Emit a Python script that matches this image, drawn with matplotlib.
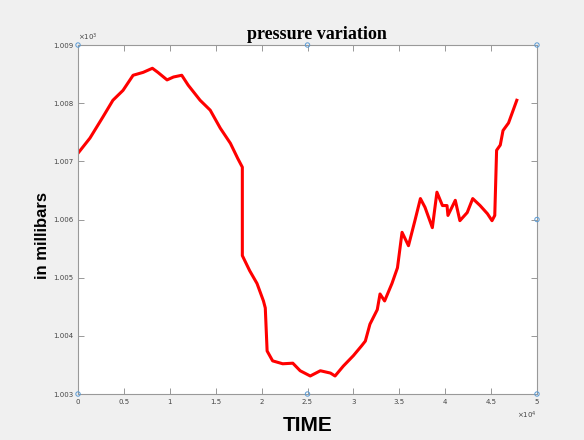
import matplotlib.pyplot as plt
from matplotlib.ticker import FuncFormatter, MultipleLocator

# points (time, pressure in mbar)
time = [0, 1300, 2700, 3800, 4900, 6000, 7100, 8100, 8700, 9700, 10400, 11300,
        12000, 13300, 14400, 15500, 16600, 17400, 17900, 17900, 18700, 19500,
        20200, 20400, 20600, 21200, 22300, 23400, 24200, 25300, 26400, 27500,
        28000, 28900, 30000, 30900, 31300, 31800, 32600, 32900, 33400, 34200,
        34800, 35300, 36000, 36700, 37300, 37800, 38600, 39100, 39700, 40200,
        40300, 41100, 41600, 42400, 43000, 43800, 44600, 45100, 45400, 45600,
        46000, 46300, 46900, 47800]
pressure = [1007.14, 1007.40, 1007.76, 1008.05, 1008.22, 1008.48, 1008.53, 1008.60,
            1008.53, 1008.40, 1008.45, 1008.48, 1008.31, 1008.05, 1007.88, 1007.57,
            1007.31, 1007.05, 1006.90, 1005.38, 1005.12, 1004.90, 1004.60, 1004.48,
            1003.74, 1003.57, 1003.52, 1003.53, 1003.40, 1003.31, 1003.40, 1003.36,
            1003.31, 1003.48, 1003.66, 1003.83, 1003.91, 1004.20, 1004.45, 1004.72,
            1004.60, 1004.90, 1005.17, 1005.78, 1005.55, 1005.98, 1006.36, 1006.21,
            1005.86, 1006.47, 1006.24, 1006.24, 1006.07, 1006.33, 1005.98, 1006.12,
            1006.36, 1006.24, 1006.10, 1005.98, 1006.07, 1007.19, 1007.28, 1007.53,
            1007.66, 1008.05]

fig = plt.figure(figsize=(5.84, 4.4), dpi=100, facecolor="#f0f0f0")
ax = fig.add_axes([0.1336, 0.1045, 0.7859, 0.7932])
ax.set_facecolor("white")

ax.plot(time, pressure, color="#ff0000", linewidth=2.2)

ax.set_xlim(0, 50000)
ax.set_ylim(1003, 1009)
ax.xaxis.set_major_locator(MultipleLocator(5000))
ax.yaxis.set_major_locator(MultipleLocator(1))
ax.xaxis.set_major_formatter(FuncFormatter(lambda v, p: "%g" % (v / 1e4)))
ax.yaxis.set_major_formatter(FuncFormatter(lambda v, p: "%.3f" % (v / 1e3)))
ax.tick_params(direction="in", length=4, width=0.6, labelsize=5,
               colors="#888888", labelcolor="#444444", top=True, right=True)
for s in ax.spines.values():
    s.set_color("#999999")
    s.set_linewidth(0.8)

# exponent labels like matlab
ax.text(0.0, 1.005, r"$\times10^3$", transform=ax.transAxes, fontsize=5,
        color="#444444", ha="left", va="bottom")
ax.text(1.0, -0.045, r"$\times10^4$", transform=ax.transAxes, fontsize=5,
        color="#444444", ha="right", va="top")

# selection handles
hx = [0, 0.5, 1, 1, 1, 0.5, 0]
hy = [1, 1, 1, 0.5, 0, 0, 0]
ax.scatter(hx, hy, s=10, facecolors="none", edgecolors="#5b9bd5",
           linewidths=0.7, transform=ax.transAxes, clip_on=False, zorder=5)

ax.set_title("pressure variation", fontfamily="Liberation Serif",
             fontweight="bold", fontsize=13, pad=4, x=0.52)
ax.set_xlabel("TIME", fontfamily="Liberation Sans", fontweight="bold",
              fontsize=15, labelpad=8)
ax.set_ylabel("in millibars", fontfamily="Liberation Sans", fontweight="bold",
              fontsize=12)
ax.yaxis.set_label_coords(-0.06, 0.455)

fig.savefig("out.png", dpi=100, facecolor=fig.get_facecolor())
